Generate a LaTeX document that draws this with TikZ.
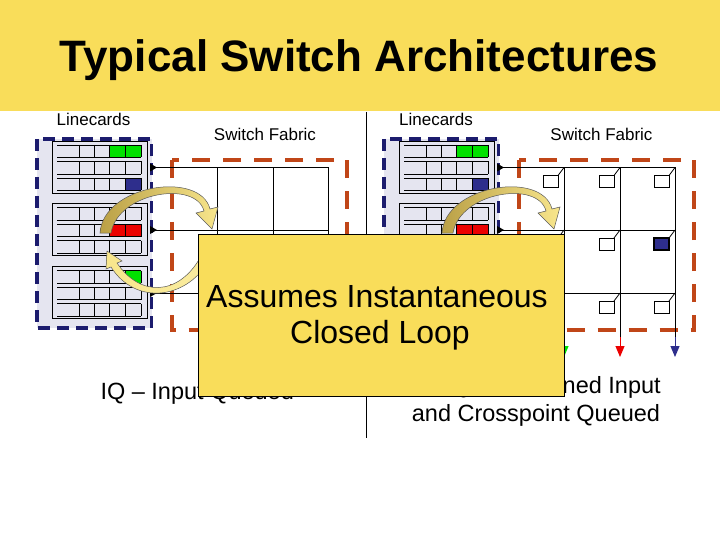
\documentclass[tikz,border=0pt]{standalone}
\usepackage{fontspec}
\setmainfont{Liberation Sans}
\usetikzlibrary{arrows.meta}
\definecolor{titlec}{RGB}{249,221,90}
\definecolor{linecardc}{RGB}{229,229,240}
\definecolor{lcdashc}{RGB}{28,28,110}
\definecolor{fabricc}{RGB}{192,70,24}
\colorlet{greenq}{green!88!black}
\definecolor{redq}{RGB}{235,0,0}
\definecolor{blueq}{RGB}{46,46,140}
\definecolor{darkgoldc}{RGB}{186,160,70}
\definecolor{lightgoldc}{RGB}{248,230,140}
\definecolor{paleyellowc}{RGB}{250,236,160}

\begin{document}
\begin{tikzpicture}[x=1pt,y=-1pt,
  cardbox/.style={draw=black,line width=0.8pt,fill=linecardc},
  lcbox/.style={draw=lcdashc,fill=linecardc,line width=3.2pt,dash pattern=on 12pt off 7pt},
  fabbox/.style={draw=fabricc,line width=4pt,dash pattern=on 18pt off 13pt},
  gridline/.style={line width=0.8pt},
  xpoint/.style={draw=black,line width=0.8pt,fill=white},
  bendarrow/.style={draw=black!65,line width=0.5pt},
  label/.style={font=\fontsize{17}{20}\selectfont,anchor=base},
  caption/.style={font=\fontsize{23.5}{28}\selectfont,anchor=base},
  loopnote/.style={font=\fontsize{32}{36}\selectfont,anchor=base}]
\useasboundingbox (0,0) rectangle (720,540);
\fill[titlec] (0,0) rectangle (720,111.5);
\node[font=\fontsize{44}{50}\selectfont\bfseries,anchor=base] (title) at (359,72) {Typical Switch Architectures};
\draw[line width=0.8pt] (366,112) -- (366,438);

\foreach \dx/\ax in {0/0,347/-5} {
\begin{scope}[xshift=\dx pt]
\draw[lcbox] (37,139) rectangle (151.5,328);
\foreach \t in {141,203.5,266.5}
  \filldraw[cardbox] (52,\t) rectangle (147,\t+52);
\fill[greenq] (109.5,145) rectangle (141,157.5);
\fill[blueq] (125,178) rectangle (141,190.5);
\fill[redq] (109.5,224) rectangle (141,236.5);
\fill[greenq] (125,270.5) rectangle (141,283);
\foreach \t in {141,203.5,266.5}
  \foreach \r in {4,20.5,37} {
    \draw[gridline] (57,\t+\r) -- (141,\t+\r) (57,\t+\r+12.5) -- (141,\t+\r+12.5);
    \foreach \c in {79,94.3,109.5,125,141}
      \draw[gridline] (\c,\t+\r) -- (\c,\t+\r+12.5);
  }
\draw[fabbox] (172,160) rectangle (347,329.5);
\foreach \y in {167.5,230,293} {
  \draw[gridline] (150,\y) -- (328,\y);
  \fill (150,\y-4) -- (157,\y) -- (150,\y+4) -- cycle;
}
\foreach \x/\c in {217/greenq,273/redq,328/blueq} {
  \draw[gridline] (\x,167.5) -- (\x,338);
  \draw[\c,line width=1pt,-{Triangle[length=11pt,width=9pt]}] (\x,337) -- (\x,357);
}
\begin{scope}[xshift=\ax pt]
\shadedraw[bendarrow,left color=darkgoldc,right color=lightgoldc]
  (100,233) .. controls (103,185) and (200,170) .. (210,209) -- (218,207) -- (212,229)
  -- (196,213) -- (204,211) .. controls (196,180) and (118,192) .. (111,233) -- cycle;
\shadedraw[bendarrow,left color=lightgoldc,right color=paleyellowc]
  (208,262) .. controls (185,300) and (135,305) .. (111,267) -- (106,269) -- (107,251)
  -- (122,261) -- (117,263) .. controls (140,297) and (178,296) .. (200,258) -- cycle;
\end{scope}
\end{scope}
}

\foreach \X in {564,620,675}
  \foreach \Y in {167.5,230,293} {
    \draw[xpoint] (\X-21,\Y+8) rectangle (\X-6,\Y+20);
    \draw[gridline] (\X-6,\Y+8) -- (\X,\Y);
  }
\filldraw[fill=blueq,draw=black,line width=1.6pt] (654,238) rectangle (669,250);

\node[label] (lcleft) at (93.5,126) {Linecards};
\node[label] (sfleft) at (265,140.5) {Switch Fabric};
\node[label] (lcright) at (436,126) {Linecards};
\node[label] (sfright) at (601.5,140.5) {Switch Fabric};

\node[caption,anchor=base west] (iq) at (97,399) {IQ -- Input Queued};
\node[caption] (cixqa) at (536,393) {CIXQ -- Combined Input};
\node[caption] (cixqb) at (536,421) {and Crosspoint Queued};

\node[draw=black,fill=titlec,line width=0.8pt,minimum width=366pt,minimum height=162pt] (callout) at (381,315) {};
\node[loopnote] (assume) at (377,307) {Assumes Instantaneous};
\node[loopnote] (closed) at (380,343) {Closed Loop};
\end{tikzpicture}
\end{document}
